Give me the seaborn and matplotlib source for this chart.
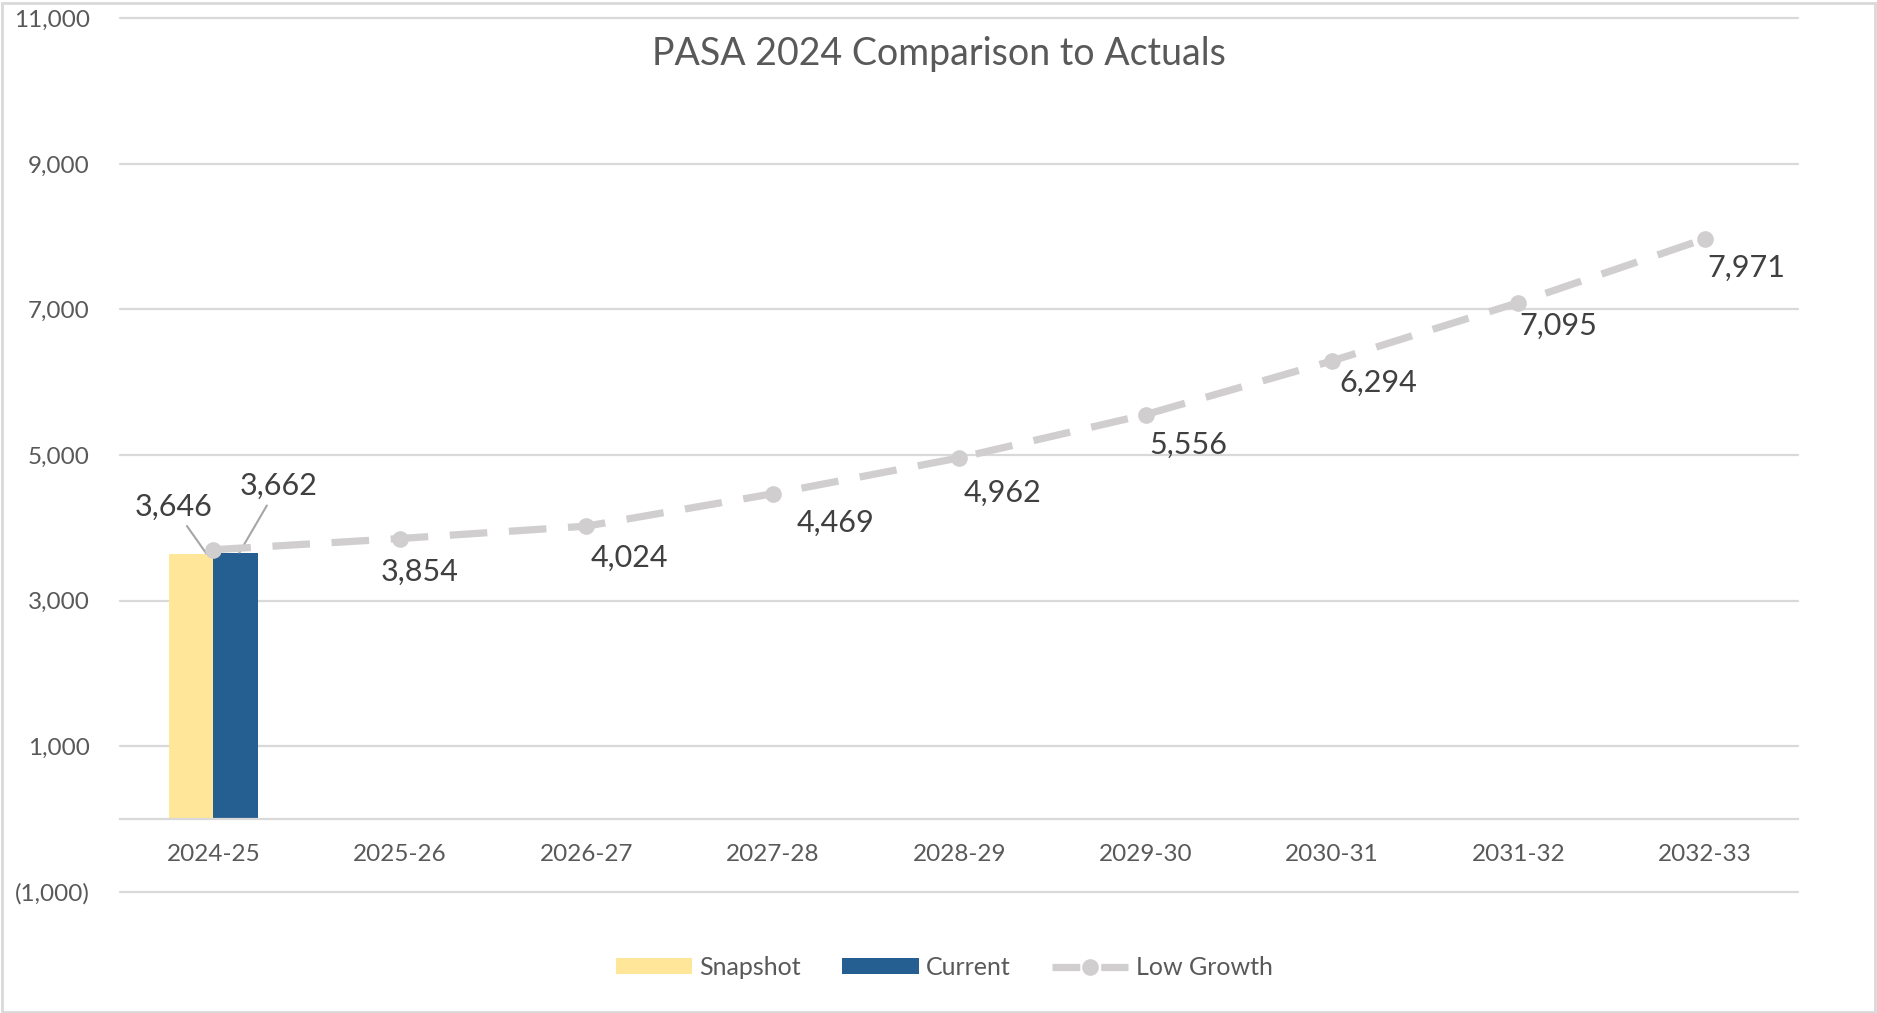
import numpy as np
import pandas as pd
import matplotlib
matplotlib.use("Agg")
import matplotlib.pyplot as plt
from matplotlib.patches import Patch, Rectangle
from matplotlib.lines import Line2D
from matplotlib.ticker import FuncFormatter
import seaborn as sns

# ---- data ----
periods = ["2024-25", "2025-26", "2026-27", "2027-28", "2028-29",
           "2029-30", "2030-31", "2031-32", "2032-33"]
snapshot = [3646, np.nan, np.nan, np.nan, np.nan, np.nan, np.nan, np.nan, np.nan]
current = [3662, np.nan, np.nan, np.nan, np.nan, np.nan, np.nan, np.nan, np.nan]
low_growth = [3700, 3854, 4024, 4469, 4962, 5556, 6294, 7095, 7971]
low_growth_labelled = [False, True, True, True, True, True, True, True, True]
y_ticks = [-1000, 1000, 3000, 5000, 7000, 9000, 11000]

SNAP_C = "#FFE699"
CURR_C = "#255E91"
LINE_C = "#D0CECE"
TEXT_C = "#595959"
LABEL_C = "#404040"
GRID_C = "#D9D9D9"
DASH = (0, (5.2, 3.0))

sns.set_theme(style="white")
plt.rcParams["font.family"] = ["Lato", "DejaVu Sans"]

fig = plt.figure(figsize=(18.77, 10.13), dpi=100)
ax = fig.add_axes([0.064, 0.1195, 0.894, 0.8625])

bars = pd.DataFrame({
    "period": periods * 2,
    "series": ["Snapshot"] * len(periods) + ["Current"] * len(periods),
    "value": snapshot + current,
})
sns.barplot(data=bars, x="period", y="value", hue="series", order=periods,
            hue_order=["Snapshot", "Current"], palette=[SNAP_C, CURR_C],
            width=0.475, dodge=True, gap=0, saturation=1, errorbar=None,
            linewidth=0, legend=False, ax=ax)

xs = np.arange(len(periods))
sns.lineplot(x=xs, y=low_growth, color=LINE_C, linewidth=5.2,
             linestyle=DASH, marker="o", markersize=12,
             markeredgewidth=0, markerfacecolor=LINE_C, ax=ax, zorder=4)

# value labels on the line
offsets = [None, (14, -24), (31, -23), (45, -21), (31, -25),
           (31, -22), (33, -16), (29, -17), (30, -21)]
for x, v, show, off in zip(xs, low_growth, low_growth_labelled, offsets):
    if show:
        ax.annotate(f"{v:,}", xy=(x, v), xytext=off, textcoords="offset points",
                    ha="center", va="center", fontsize=22, color=LABEL_C)

# bar labels with leader lines
ax.annotate(f"{snapshot[0]:,}", xy=(-0.037, snapshot[0]), xytext=(-24, 34),
            textcoords="offset points", ha="center", va="center",
            fontsize=22, color=LABEL_C,
            arrowprops=dict(arrowstyle="-", color="#A6A6A6", lw=1.5,
                            shrinkA=2, shrinkB=0))
ax.annotate(f"{current[0]:,}", xy=(0.14, current[0]), xytext=(28, 48),
            textcoords="offset points", ha="center", va="center",
            fontsize=22, color=LABEL_C,
            arrowprops=dict(arrowstyle="-", color="#A6A6A6", lw=1.5,
                            shrinkA=2, shrinkB=0))

# axes styling
ax.set_xlim(-0.5, len(periods) - 0.5)
ax.set_ylim(-1000, 11000)
ax.set_yticks(y_ticks)
ax.yaxis.set_major_formatter(FuncFormatter(
    lambda v, p: f"({abs(int(v)):,})" if v < 0 else f"{int(v):,}"))
ax.tick_params(axis="y", length=0, pad=22, labelsize=17.5, labelcolor=TEXT_C)
ax.tick_params(axis="x", length=0, pad=18, labelsize=17.5, labelcolor=TEXT_C)
ax.set_xlabel("")
ax.set_ylabel("")
for s in ["top", "right", "left"]:
    ax.spines[s].set_visible(False)
ax.spines["bottom"].set_position(("data", 0))
ax.spines["bottom"].set_color(GRID_C)
ax.spines["bottom"].set_linewidth(1.6)
ax.grid(axis="y", color=GRID_C, linewidth=1.6)
ax.grid(axis="x", visible=False)
for gl in ax.get_ygridlines():
    gl.set_clip_on(False)
ax.set_axisbelow(True)

fig.text(0.5, 0.947, "PASA 2024 Comparison to Actuals", ha="center",
         va="center", fontsize=27, color=TEXT_C)

handles = [
    Patch(facecolor=SNAP_C, edgecolor="none", label="Snapshot"),
    Patch(facecolor=CURR_C, edgecolor="none", label="Current"),
    Line2D([0], [0], color=LINE_C, linewidth=5.2, linestyle=(0, (3.85, 2.9)),
           marker="o", markersize=12, markeredgewidth=0, label="Low Growth"),
]
fig.legend(handles=handles, loc="center", bbox_to_anchor=(0.503, 0.045),
           ncol=3, frameon=False, fontsize=18, labelcolor=TEXT_C,
           handlelength=3.05, handleheight=0.6, columnspacing=1.65,
           handletextpad=0.3)

# outer frame around the chart area
fig.patches.append(Rectangle((0.001, 0.001), 0.998, 0.996,
                             transform=fig.transFigure, fill=False,
                             edgecolor="#D9D9D9", linewidth=2))

fig.savefig("out.png", dpi=100, facecolor="white")
